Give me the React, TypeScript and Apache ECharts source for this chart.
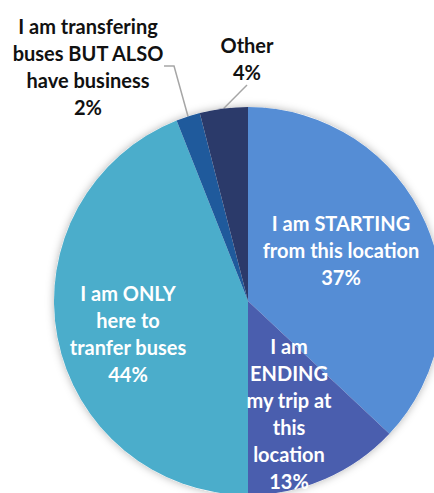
import React, { useEffect, useRef } from "react";
import * as echarts from "echarts";

const categories = [
  "I am STARTING\nfrom this location",
  "I am\nENDING\nmy trip at\nthis\nlocation",
  "I am ONLY\nhere to\ntranfer buses",
  "I am transfering\nbuses BUT ALSO\nhave business",
  "Other",
];
const values = [37, 13, 44, 2, 4];
const colors = ["#558DD5", "#4A5EAE", "#4BADCB", "#1F5A9C", "#2B3A6A"];
const inside = [true, true, true, false, false];
const labelCenters = [
  [341, 250],
  [289, 413],
  [128, 333],
  [88, 66],
  [247, 58],
];

export default function App() {
  const ref = useRef<HTMLDivElement>(null);
  useEffect(() => {
    document.body.style.margin = "0";
    const chart = echarts.init(ref.current!, null, { renderer: "svg" });
    const font = "Lato, 'Noto Sans', sans-serif";
    chart.setOption({
      animation: false,
      backgroundColor: "#ffffff",
      series: [
        {
          type: "pie",
          silent: true,
          center: [248, 301],
          radius: 194,
          z: 1,
          label: { show: false },
          labelLine: { show: false },
          itemStyle: {
            color: "#ffffff",
            shadowBlur: 8,
            shadowColor: "rgba(0,0,0,0.3)",
          },
          data: [{ value: 1, name: "bg" }],
        },
        {
          type: "pie",
          center: [248, 301],
          radius: 194,
          startAngle: 90,
          clockwise: true,
          z: 2,
          data: categories.map((c, i) => ({
            name: c,
            value: values[i],
            itemStyle: { color: colors[i] },
            label: inside[i]
              ? { position: "inside", color: "#ffffff", fontWeight: "bold", fontSize: 20, lineHeight: 27 }
              : { position: "outside", color: "#111111", fontWeight: "bold", fontSize: 20, lineHeight: 27 },
            labelLine: {
              show: !inside[i],
              length: 12,
              length2: i === 4 ? 0 : 10,
              lineStyle: { color: "#A6A6A6", width: 1.5 },
            },
          })),
          label: {
            show: true,
            fontFamily: font,
            fontSize: 20,
            lineHeight: 27,
            align: "center",
            formatter: (p: any) => `${p.name}\n${p.value}%`,
          },
          labelLayout: (p: any) => {
            const c = labelCenters[p.dataIndex];
            return { x: c[0], y: c[1], align: "center", verticalAlign: "middle" };
          },
        },
      ],
    });
    return () => chart.dispose();
  }, []);
  return (
    <div
      ref={ref}
      style={{ position: "absolute", left: 0, top: 0, width: 434, height: 493 }}
    />
  );
}
